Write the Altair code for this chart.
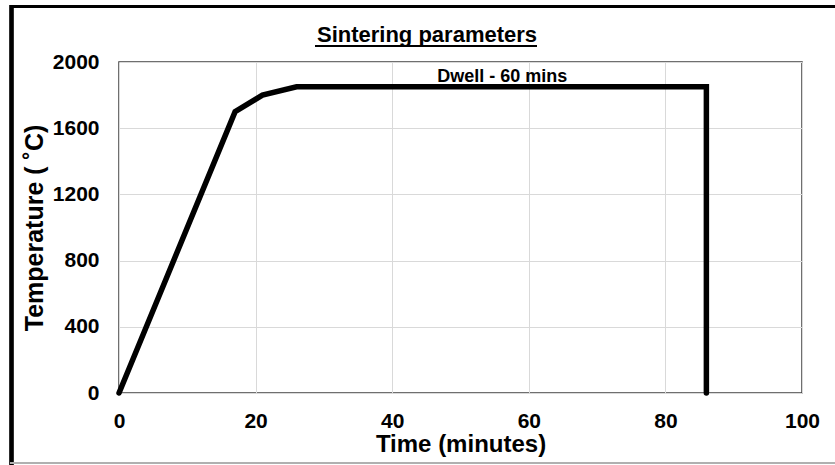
import altair as alt
import pandas as pd

time_min = [0, 17, 21, 26, 86, 86]
temp_c = [0, 1700, 1800, 1850, 1850, 0]
x_ticks = [0, 20, 40, 60, 80, 100]
y_ticks = [0, 400, 800, 1200, 1600, 2000]
title_text = "Sintering parameters"
dwell_label = "Dwell - 60 mins"
dwell_pos = (56.1, 1912)

FONT = "Liberation Sans, Arial, sans-serif"

df = pd.DataFrame({"t": time_min, "T": temp_c, "i": list(range(len(time_min)))})

xs = alt.Scale(domain=[0, 100], nice=False, zero=False)
ys = alt.Scale(domain=[0, 2000], nice=False, zero=False)

line = alt.Chart(df).mark_line(color="black", strokeWidth=5.5, strokeCap="round", strokeJoin="miter").encode(
    x=alt.X("t:Q", scale=xs, title="Time (minutes)",
            axis=alt.Axis(values=x_ticks, format="d", grid=True, gridColor="#d9d9d9", gridWidth=1,
                          domain=False, ticks=False, labelPadding=17, labelFontSize=21,
                          labelFlush=False,
                          labelFont=FONT, labelFontWeight="bold", labelColor="black",
                          titleFont=FONT, titleFontSize=24, titleFontWeight="bold", titleColor="black",
                          titlePadding=1)),
    y=alt.Y("T:Q", scale=ys, title="Temperature ( ˚C)",
            axis=alt.Axis(values=y_ticks, format="d", grid=True, gridColor="#d9d9d9", gridWidth=1,
                          domain=False, ticks=False, labelPadding=20, labelFontSize=21,
                          labelFlush=False,
                          labelFont=FONT, labelFontWeight="bold", labelColor="black",
                          titleFont=FONT, titleFontSize=25, titleFontWeight="bold", titleColor="black",
                          titlePadding=5)),
    order="i:O",
)

label_df = pd.DataFrame({"t": [dwell_pos[0]], "T": [dwell_pos[1]], "txt": [dwell_label]})
label = alt.Chart(label_df).mark_text(font=FONT, fontSize=18, fontWeight="bold", color="black",
                                      baseline="middle", align="center").encode(
    x=alt.X("t:Q", scale=xs), y=alt.Y("T:Q", scale=ys), text="txt:N")

title_df = pd.DataFrame({"txt": [title_text]})
title = alt.Chart(title_df).mark_text(font=FONT, fontSize=22, fontWeight="bold", color="black",
                                      baseline="alphabetic", align="center", clip=False).encode(
    x=alt.value(308), y=alt.value(-20), text="txt:N")

# decorative frame and title underline (pixel positions, not data)
frame_left = alt.Chart(df).mark_rule(color="black", strokeWidth=3.5, clip=False).encode(
    x=alt.value(-107.5), y=alt.value(-57), y2=alt.value(403))
frame_top = alt.Chart(df).mark_rule(color="black", strokeWidth=3, clip=False).encode(
    x=alt.value(-109), x2=alt.value(716), y=alt.value(-55.5))
frame_bottom = alt.Chart(df).mark_rule(color="#b0b0b0", strokeWidth=1.5, clip=False).encode(
    x=alt.value(-109), x2=alt.value(716), y=alt.value(401))
underline = alt.Chart(df).mark_rule(color="black", strokeWidth=1.5, clip=False).encode(
    x=alt.value(196), x2=alt.value(418), y=alt.value(-16))

chart = alt.layer(line, label, title, frame_left, frame_top, frame_bottom, underline).properties(
    width=683, height=331,
    autosize=alt.AutoSizeParams(type="none"),
    padding={"left": 119, "top": 62, "right": 33, "bottom": 72},
    background="white",
).configure_view(stroke="#404040", strokeWidth=1.5)

chart.save("out.html", embed_options={"renderer": "svg", "actions": False})
